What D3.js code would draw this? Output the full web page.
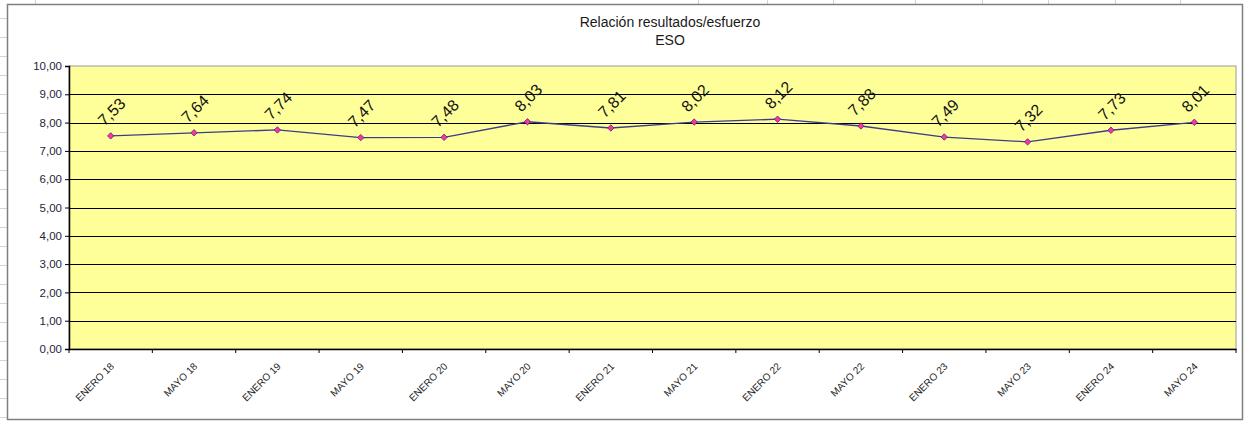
<!DOCTYPE html>
<html>
<head>
<meta charset="utf-8">
<script src="https://cdn.jsdelivr.net/npm/d3@7"></script>
<style>
  html, body { margin: 0; padding: 0; background: #fff; }
  svg { display: block; font-family: "Liberation Sans", Arial, sans-serif; }
</style>
</head>
<body>
<div id="chart"></div>
<script>
// chart data
var categories = ["ENERO 18", "MAYO 18", "ENERO 19", "MAYO 19", "ENERO 20", "MAYO 20", "ENERO 21",
                  "MAYO 21", "ENERO 22", "MAYO 22", "ENERO 23", "MAYO 23", "ENERO 24", "MAYO 24"];
var values = [7.53, 7.64, 7.74, 7.47, 7.48, 8.03, 7.81, 8.02, 8.12, 7.88, 7.49, 7.32, 7.73, 8.01];
var yTicks = [0, 1, 2, 3, 4, 5, 6, 7, 8, 9, 10];
var titleLines = ["Relación resultados/esfuerzo", "ESO"];

var W = 1244, H = 421;
var plot = {left: 69, top: 66, right: 1236, bottom: 349};

var svg = d3.select("#chart").append("svg")
    .attr("width", W)
    .attr("height", H);

// spreadsheet grid behind the chart
var gridG = svg.append("g").attr("stroke", "#d4d4d4").attr("stroke-width", 1);
[35, 698, 767, 833, 915, 982, 1048, 1115, 1180].forEach(function(x) {
    gridG.append("line").attr("x1", x + 0.5).attr("x2", x + 0.5).attr("y1", 0).attr("y2", 4);
});
d3.range(18, 421, 19).forEach(function(y) {
    gridG.append("line").attr("x1", 0).attr("x2", 7).attr("y1", y + 0.5).attr("y2", y + 0.5);
});

// chart area frame
svg.append("rect")
    .attr("x", 7.5).attr("y", 4.5)
    .attr("width", 1235).attr("height", 415)
    .attr("fill", "#fff")
    .attr("stroke", "#7f7f7f")
    .attr("stroke-width", 1.5);

var x = d3.scaleBand()
    .domain(categories)
    .range([plot.left, plot.right]);

var y = d3.scaleLinear()
    .domain([0, 10])
    .range([plot.bottom, plot.top]);

var fmt = function(v) { return d3.format(".2f")(v).replace(".", ","); };

// plot background
svg.append("rect")
    .attr("x", plot.left).attr("y", plot.top)
    .attr("width", plot.right - plot.left)
    .attr("height", plot.bottom - plot.top)
    .attr("fill", "#ffff99")
    .attr("stroke", "#9a9a9a")
    .attr("stroke-width", 1);

// horizontal gridlines
svg.append("g")
    .selectAll("line")
    .data(yTicks.filter(function(d) { return d > 0 && d < 10; }))
    .enter().append("line")
    .attr("x1", plot.left).attr("x2", plot.right)
    .attr("y1", function(d) { return Math.round(y(d)) + 0.5; })
    .attr("y2", function(d) { return Math.round(y(d)) + 0.5; })
    .attr("stroke", "#000")
    .attr("stroke-width", 1);

// y axis
var yAxis = svg.append("g")
    .attr("transform", "translate(" + plot.left + ",0)")
    .call(d3.axisLeft(y).tickValues(yTicks).tickSize(4).tickPadding(3).tickFormat(fmt));
yAxis.select(".domain").attr("stroke", "#000").attr("stroke-width", 1.5);
yAxis.selectAll(".tick line").attr("stroke", "#000");
yAxis.selectAll(".tick text")
    .attr("font-size", 11.5)
    .attr("fill", "#1f1f3a")
    .attr("font-family", "Liberation Sans, Arial, sans-serif");

// x axis
var xAxis = svg.append("g")
    .attr("transform", "translate(0," + plot.bottom + ")")
    .call(d3.axisBottom(x).tickSize(0).tickFormat(""));
xAxis.select(".domain").attr("stroke", "#000").attr("stroke-width", 1.5);
xAxis.selectAll(".tick").remove();

// x tick marks between categories
var bounds = categories.map(function(c) { return x(c); }).concat([plot.right]);
svg.append("g")
    .selectAll("line")
    .data(bounds)
    .enter().append("line")
    .attr("x1", function(d) { return d; }).attr("x2", function(d) { return d; })
    .attr("y1", plot.bottom).attr("y2", plot.bottom + 4)
    .attr("stroke", "#000");

// x labels rotated
svg.append("g")
    .selectAll("text")
    .data(categories)
    .enter().append("text")
    .attr("transform", function(d) {
        return "translate(" + (x(d) + x.bandwidth() / 2 + 4) + "," + (plot.bottom + 18) + ") rotate(-45)";
    })
    .attr("text-anchor", "end")
    .attr("font-size", 10)
    .attr("fill", "#1f1f1f")
    .text(function(d) { return d; });

// series line
var line = d3.line()
    .x(function(d, i) { return x(categories[i]) + x.bandwidth() / 2; })
    .y(function(d) { return y(d); });

svg.append("path")
    .datum(values)
    .attr("d", line)
    .attr("fill", "none")
    .attr("stroke", "#3c3c8c")
    .attr("stroke-width", 1.3);

// diamond markers
svg.append("g")
    .selectAll("path")
    .data(values)
    .enter().append("path")
    .attr("transform", function(d, i) {
        return "translate(" + (x(categories[i]) + x.bandwidth() / 2) + "," + y(d) + ")";
    })
    .attr("d", "M0,-3.2L3.2,0L0,3.2L-3.2,0Z")
    .attr("fill", "#ff3399")
    .attr("stroke", "#4a2a8a")
    .attr("stroke-width", 0.8);

// data labels
svg.append("g")
    .selectAll("text")
    .data(values)
    .enter().append("text")
    .attr("transform", function(d, i) {
        return "translate(" + (x(categories[i]) + x.bandwidth() / 2 + 1) + "," + (y(d) - 24) + ") rotate(-45)";
    })
    .attr("text-anchor", "middle")
    .attr("dominant-baseline", "central")
    .attr("font-size", 16)
    .attr("fill", "#111")
    .text(fmt);

// title
svg.append("g")
    .selectAll("text")
    .data(titleLines)
    .enter().append("text")
    .attr("x", 670)
    .attr("y", function(d, i) { return 27 + i * 18; })
    .attr("text-anchor", "middle")
    .attr("font-size", 14)
    .attr("fill", "#1a1a1a")
    .text(function(d) { return d; });
</script>
</body>
</html>
